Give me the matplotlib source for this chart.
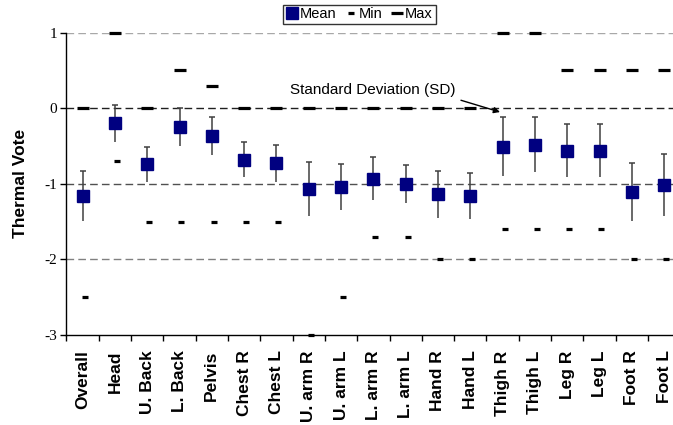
import matplotlib
matplotlib.use('Agg')
import matplotlib.pyplot as plt
import numpy as np

plt.rcParams['font.family'] = ['Liberation Sans', 'DejaVu Sans']

# data
categories = ['Overall', 'Head', 'U. Back', 'L. Back', 'Pelvis', 'Chest R', 'Chest L',
              'U. arm R', 'U. arm L', 'L. arm R', 'L. arm L', 'Hand R', 'Hand L',
              'Thigh R', 'Thigh L', 'Leg R', 'Leg L', 'Foot R', 'Foot L']
mean_vote = [-1.16, -0.20, -0.74, -0.25, -0.37, -0.68, -0.73, -1.07, -1.04, -0.93,
             -1.00, -1.14, -1.16, -0.51, -0.48, -0.56, -0.56, -1.11, -1.02]
sd_vote = [0.33, 0.24, 0.23, 0.25, 0.25, 0.23, 0.25, 0.36, 0.30, 0.28,
           0.25, 0.31, 0.30, 0.39, 0.37, 0.35, 0.35, 0.38, 0.41]
min_vote = [-2.5, -0.7, -1.5, -1.5, -1.5, -1.5, -1.5, -3.0, -2.5, -1.7,
            -1.7, -2.0, -2.0, -1.6, -1.6, -1.6, -1.6, -2.0, -2.0]
max_vote = [0.0, 1.0, 0.0, 0.5, 0.3, 0.0, 0.0, 0.0, 0.0, 0.0,
            0.0, 0.0, 0.0, 1.0, 1.0, 0.5, 0.5, 0.5, 0.5]
y_ticks = [1, 0, -1, -2, -3]

x = np.arange(len(categories))
mean = np.array(mean_vote)
sd = np.array(sd_vote)

fig = plt.figure(figsize=(6.73, 4.25), dpi=100)
ax = fig.add_axes([0.0988, 0.2118, 0.912, 0.7113])

# dashed reference lines
grid_colors = {1: '#a8a8a8', 0: '#202020', -1: '#505050', -2: '#808080'}
for yv, c in grid_colors.items():
    ax.axhline(yv, color=c, lw=1.0, ls=(0, (5.5, 3)), zorder=1)

# SD bars with a cap on top only
ax.errorbar(x, mean, yerr=sd, fmt='none', ecolor='#404040', elinewidth=1.1,
            capsize=0, zorder=2)
ax.plot(x, mean + sd, ls='none', marker='_', ms=4.5, mew=1.1, color='#404040', zorder=2)

ax.plot(x, max_vote, ls='none', marker='_', ms=8.5, mew=2.3, color='black',
        label='Max', zorder=3, clip_on=False)
ax.plot(x + 0.06, min_vote, ls='none', marker='_', ms=4.5, mew=2.3, color='black',
        label='Min', zorder=3, clip_on=False)
ax.plot(x, mean, ls='none', marker='s', ms=8, color='#000080', mec='#000080',
        label='Mean', zorder=4)

ax.set_xlim(-0.5, len(categories) - 0.5)
ax.set_ylim(-3, 1)

ax.set_yticks(y_ticks)
ax.set_yticklabels([str(v) for v in y_ticks], fontfamily='Liberation Serif', fontsize=11)
ax.tick_params(axis='y', direction='out', length=4, width=1, pad=2.5)

ax.set_xticks(x)
ax.set_xticklabels(categories, rotation=90, fontsize=12.5, fontweight='bold')
ax.set_xticks(np.arange(len(categories) + 1) - 0.5, minor=True)
ax.tick_params(axis='x', which='major', length=0, pad=11)
ax.tick_params(axis='x', which='minor', direction='out', length=4, width=1)

for side in ['top', 'right']:
    ax.spines[side].set_visible(False)
for side in ['left', 'bottom']:
    ax.spines[side].set_linewidth(1.0)

ax.set_ylabel('Thermal Vote', fontsize=12.5, fontweight='bold')
ax.yaxis.set_label_coords(-0.062, 0.5)

ax.annotate('Standard Deviation (SD)', xy=(12.92, -0.05), xytext=(6.42, 0.24),
            fontsize=11, ha='left', va='center',
            arrowprops=dict(arrowstyle='-|>', color='black', lw=1.0,
                            mutation_scale=9, relpos=(0.97, 0.0),
                            shrinkA=2, shrinkB=0))

handles, labels = ax.get_legend_handles_labels()
order = [labels.index('Mean'), labels.index('Min'), labels.index('Max')]
leg = fig.legend([handles[i] for i in order], [labels[i] for i in order],
                 loc='center', bbox_to_anchor=(0.534, 0.966), ncol=3, fontsize=10.5,
                 frameon=True, fancybox=False, edgecolor='black', borderpad=0.2,
                 handlelength=0.8, handletextpad=0.15, columnspacing=0.6,
                 borderaxespad=0)
leg.get_frame().set_linewidth(1.0)

fig.savefig('out.png', dpi=100)
